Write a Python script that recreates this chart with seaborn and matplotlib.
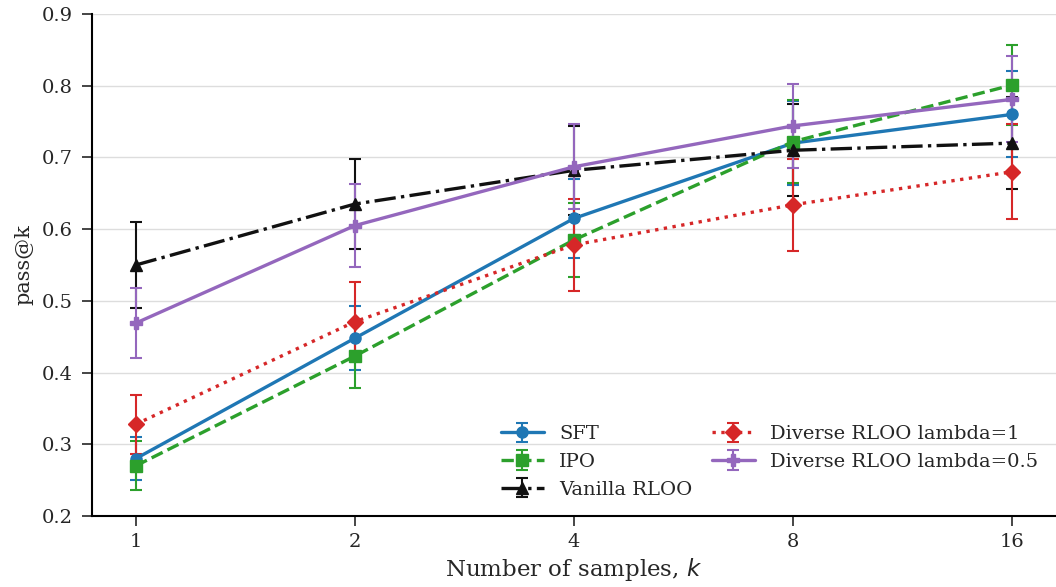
import numpy as np
import matplotlib
matplotlib.use("Agg")
import matplotlib.pyplot as plt
import seaborn as sns
from matplotlib.ticker import FixedLocator, FixedFormatter, NullLocator

k_values = [1, 2, 4, 8, 16]
k_labels = ["1", "2", "4", "8", "16"]

sft_mean = [0.280, 0.448, 0.615, 0.720, 0.760]
sft_err = [0.030, 0.045, 0.055, 0.059, 0.060]
ipo_mean = [0.270, 0.423, 0.585, 0.722, 0.801]
ipo_err = [0.034, 0.045, 0.052, 0.058, 0.056]
vanilla_mean = [0.550, 0.635, 0.682, 0.710, 0.720]
vanilla_err = [0.060, 0.063, 0.062, 0.064, 0.064]
div1_mean = [0.328, 0.471, 0.578, 0.634, 0.680]
div1_err = [0.041, 0.055, 0.064, 0.064, 0.066]
div05_mean = [0.469, 0.605, 0.687, 0.744, 0.781]
div05_err = [0.049, 0.058, 0.059, 0.059, 0.060]

series_names = ["SFT", "IPO", "Vanilla RLOO", "Diverse RLOO lambda=1", "Diverse RLOO lambda=0.5"]

sns.set_style("ticks")
plt.rcParams["font.family"] = ["DejaVu Serif"]
pal = sns.color_palette("tab10")

fig = plt.figure(figsize=(10.56, 5.87), dpi=100)
ax = fig.add_axes([92 / 1056, 1 - 516 / 587, 1 - 92 / 1056, (516 - 14) / 587])

styles = [
    (sft_mean, sft_err, pal[0], "-", "o", 8),
    (ipo_mean, ipo_err, pal[2], "--", "s", 8),
    (vanilla_mean, vanilla_err, "#111111", "-.", "^", 8),
    (div1_mean, div1_err, pal[3], ":", "D", 8),
    (div05_mean, div05_err, pal[4], "-", "P", 8),
]

for name, (m, e, c, ls, mk, ms) in zip(series_names, styles):
    ax.errorbar(k_values, m, yerr=e, color=c, linestyle=ls, marker=mk,
                markersize=ms, linewidth=2.4, elinewidth=1.5, capsize=4.5,
                capthick=1.5, label=name)

ax.set_xscale("log", base=2)
ax.set_xlim(2 ** -0.2, 2 ** 4.2)
ax.xaxis.set_major_locator(FixedLocator(k_values))
ax.xaxis.set_major_formatter(FixedFormatter(k_labels))
ax.xaxis.set_minor_locator(NullLocator())
ax.set_ylim(0.2, 0.9)
ax.set_yticks(np.arange(0.2, 0.91, 0.1))
ax.yaxis.grid(True, color="#dddddd", linewidth=1)
ax.set_axisbelow(True)

ax.tick_params(axis="both", labelsize=14, length=7, width=1.2)
ax.tick_params(axis="x", pad=5)
ax.tick_params(axis="y", pad=7)
for s in ["left", "bottom"]:
    ax.spines[s].set_linewidth(1.5)
    ax.spines[s].set_color("black")
sns.despine(ax=ax)

ax.set_xlabel("Number of samples, $k$", fontsize=16.5, labelpad=4)
ax.set_ylabel("pass@k", fontsize=15, labelpad=6)

ax.legend(ncol=2, loc="lower right", bbox_to_anchor=(1.0, 0.0), frameon=False,
          fontsize=14, handlelength=2.2, columnspacing=1.0, labelspacing=0.5)

fig.savefig("out.png", dpi=100)
